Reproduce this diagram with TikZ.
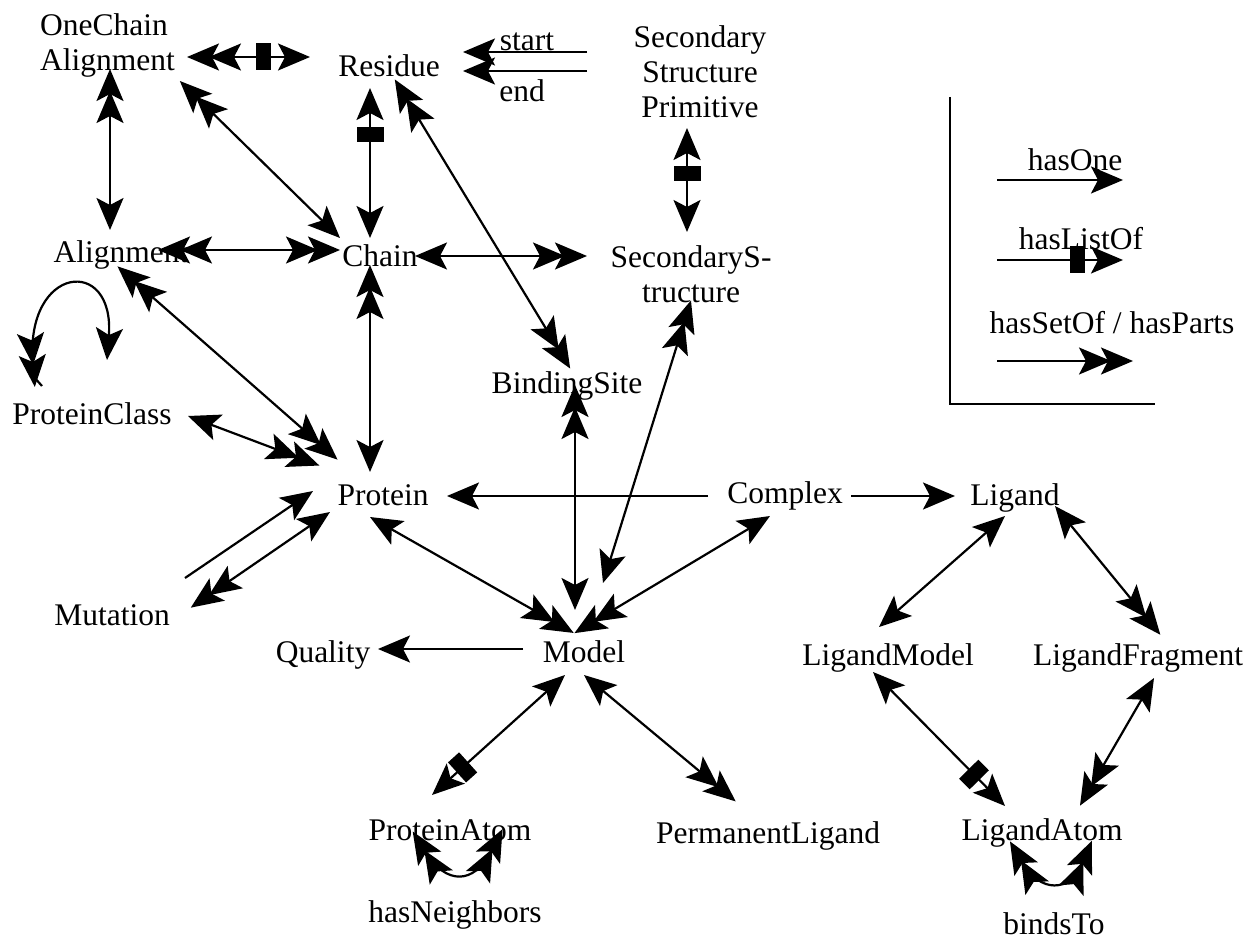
\documentclass[tikz,border=0pt]{standalone}
\usepackage{fontspec}
\setmainfont{Liberation Serif}
\usetikzlibrary{arrows.meta,calc}
\tikzset{
  hS/.tip={Stealth[length=32pt,width=27pt,inset=7pt]},
  hD/.tip={Stealth[length=32pt,width=27pt,inset=7pt,sep=-10pt]Stealth[length=32pt,width=27pt,inset=7pt,sep=-10pt]},
  lbl/.style={inner sep=0pt, anchor=base, font=\fontsize{31.5}{35}\selectfont},
  conn/.style={line width=2.2pt},
  lbox/.style={fill=black, draw=none, rectangle, inner sep=0pt, minimum width=15pt, minimum height=27pt, sloped},
}
\begin{document}
\begin{tikzpicture}[x=1pt,y=-1pt]
\useasboundingbox (0,0) rectangle (1247,941);
% nodes
\node[lbl, anchor=base west, align=left] (oca) at (40,71) {OneChain\\Alignment};
\node[lbl] (res) at (389,77) {Residue};
\node[lbl, align=center] (ssp) at (700,118) {Secondary\\Structure\\Primitive};
\node[lbl] (aln) at (121,262) {Alignment};
\node[lbl] (chain) at (380,267) {Chain};
\node[lbl, align=center] (ss) at (691,302) {SecondaryS-\\tructure};
\node[lbl] (pc) at (92,424) {ProteinClass};
\node[lbl] (bs) at (567,393) {BindingSite};
\node[lbl] (prot) at (383,505) {Protein};
\node[lbl] (cplx) at (785,503) {Complex};
\node[lbl] (lig) at (1015,505) {Ligand};
\node[lbl] (mut) at (112,625) {Mutation};
\node[lbl] (qual) at (323,662) {Quality};
\node[lbl] (model) at (584,662) {Model};
\node[lbl] (lm) at (888,665) {LigandModel};
\node[lbl] (lf) at (1138,665) {LigandFragment};
\node[lbl] (pa) at (450,840) {ProteinAtom};
\node[lbl] (pl) at (768,843) {PermanentLigand};
\node[lbl] (la) at (1042,840) {LigandAtom};
\node[lbl] (hn) at (455,922) {hasNeighbors};
\node[lbl] (bt) at (1054,934) {bindsTo};
\node[lbl] (st) at (527,51) {start};
\node[lbl] (en) at (522,102) {end};
\node[lbl] (lg1) at (1075,171) {hasOne};
\node[lbl] (lg2) at (1081,250) {hasListOf};
\node[lbl] (lg3) at (1112,333) {hasSetOf / hasParts};
% connectors
\draw[conn, {hD}-{hS}] ($(oca.base west)+(157,-14)$) -- node[lbox, pos=0.59]{} ($(res.base)+(-79,-20)$);
\draw[conn, {hD}-{hS}] ($(oca.base west)+(70,8)$) -- ($(aln.base)+(-11,-32)$);
\draw[conn, {hD}-{hS}] ($(oca.base west)+(147,17)$) -- ($(chain.base)+(-40,-29)$);
\draw[conn, {hS}-{hS}] ($(res.base)+(-19,11)$) -- node[lbox,pos=0.31]{} ($(chain.base)+(-10,-29)$);
\draw[conn, {hD}-{hD}] ($(aln.base)+(47,-12)$) -- ($(chain.base)+(-50,-17)$);
\draw[conn, -{hS}] ($(ssp.base)+(-113,-66)$) -- ($(res.base)+(74,-25)$);
\draw[conn, -{hS}] ($(ssp.base)+(-113,-47)$) -- ($(res.base)+(74,-6)$);
\draw[conn, {hS}-{hS}] ($(ssp.base)+(-13,10)$) -- node[lbox,pos=0.44]{} ($(ss.base)+(-4,-70)$);
\draw[conn, {hS}-{hD}] ($(chain.base)+(35,-11)$) -- ($(ss.base)+(-114,-46)$);
\draw[conn, {hD}-{hD}] ($(res.base)+(11,11)$) -- ($(bs.base)+(-2,-33)$);
\draw[conn, {hD}-{hS}] ($(pc.base)+(-58,-47)$) .. controls ($(pc.base)+(-67,-159)$) and ($(pc.base)+(23,-169)$) .. ($(pc.base)+(15,-64)$);
\draw[conn] ($(pc.base)+(-58,-47)$) -- ($(pc.base)+(-50,-38)$);
\draw[conn, {hD}-{hD}] ($(aln.base)+(4,11)$) -- ($(prot.base)+(-53,-52)$);
\draw[conn, {hS}-{hD}] ($(pc.base)+(96,-8)$) -- ($(prot.base)+(-73,-43)$);
\draw[conn, {hD}-{hS}] ($(chain.base)+(-10,8)$) -- ($(prot.base)+(-13,-33)$);
\draw[conn, -{hS}] ($(mut.base)+(73,-47)$) -- ($(prot.base)+(-70,-14)$);
\draw[conn, {hD}-{hS}] ($(mut.base)+(87,-23)$) -- ($(prot.base)+(-53,7)$);
\draw[conn, -{hS}] ($(cplx.base)+(-77,-7)$) -- ($(prot.base)+(64,-9)$);
\draw[conn, {hS}-{hD}] ($(prot.base)+(-13,12)$) -- ($(model.base)+(-19,-34)$);
\draw[conn, {hD}-{hS}] ($(bs.base)+(8,2)$) -- ($(model.base)+(-9,-52)$);
\draw[conn, {hD}-{hS}] ($(ss.base)+(-3,8)$) -- ($(model.base)+(19,-79)$);
\draw[conn, {hS}-{hD}] ($(cplx.base)+(-15,13)$) -- ($(model.base)+(-1,-34)$);
\draw[conn, -{hS}] ($(model.base)+(-61,-13)$) -- ($(qual.base)+(55,-13)$);
\draw[conn, {hS}-{hS}] ($(model.base)+(-19,13)$) -- node[lbox,pos=0.77]{} ($(pa.base)+(-18,-45)$);
\draw[conn, {hS}-{hD}] ($(model.base)+(0,13)$) -- ($(pl.base)+(-40,-48)$);
\draw[conn, {hD}-{hD}] ($(pa.base)+(-32,0)$) .. controls ($(pa.base)+(-4,45)$) and ($(pa.base)+(24,45)$) .. ($(pa.base)+(48,-2)$);
\draw[conn, -{hS}] ($(cplx.base)+(66,-7)$) -- ($(lig.base)+(-60,-9)$);
\draw[conn, {hS}-{hS}] ($(lig.base)+(-10,11)$) -- ($(lm.base)+(-9,-38)$);
\draw[conn, {hS}-{hD}] ($(lig.base)+(40,1)$) -- ($(lf.base)+(16,-38)$);
\draw[conn, {hS}-{hS}] ($(lm.base)+(-15,7)$) -- node[lbox,pos=0.765]{} ($(la.base)+(-37,-34)$);
\draw[conn, {hS}-{hD}] ($(lf.base)+(16,13)$) -- ($(la.base)+(43,-43)$);
\draw[conn, {hD}-{hD}] ($(la.base)+(-27,10)$) .. controls ($(la.base)+(-2,53)$) and ($(la.base)+(28,53)$) .. ($(la.base)+(46,10)$);
% legend
\coordinate (fr1) at (950,97);
\coordinate (fr2) at (950,404);
\coordinate (fr3) at (1155,404);
\draw[conn] (fr1) -- (fr2) -- (fr3);
\draw[conn, -{hS}] ($(lg1.base)+(-78,9)$) -- ($(lg1.base)+(48,9)$);
\draw[conn, -{hS}] ($(lg2.base)+(-84,10)$) -- node[lbox,pos=0.64]{} ($(lg2.base)+(42,10)$);
\draw[conn, -{hD}] ($(lg3.base)+(-115,28)$) -- ($(lg3.base)+(11,28)$);
\end{tikzpicture}
\end{document}
